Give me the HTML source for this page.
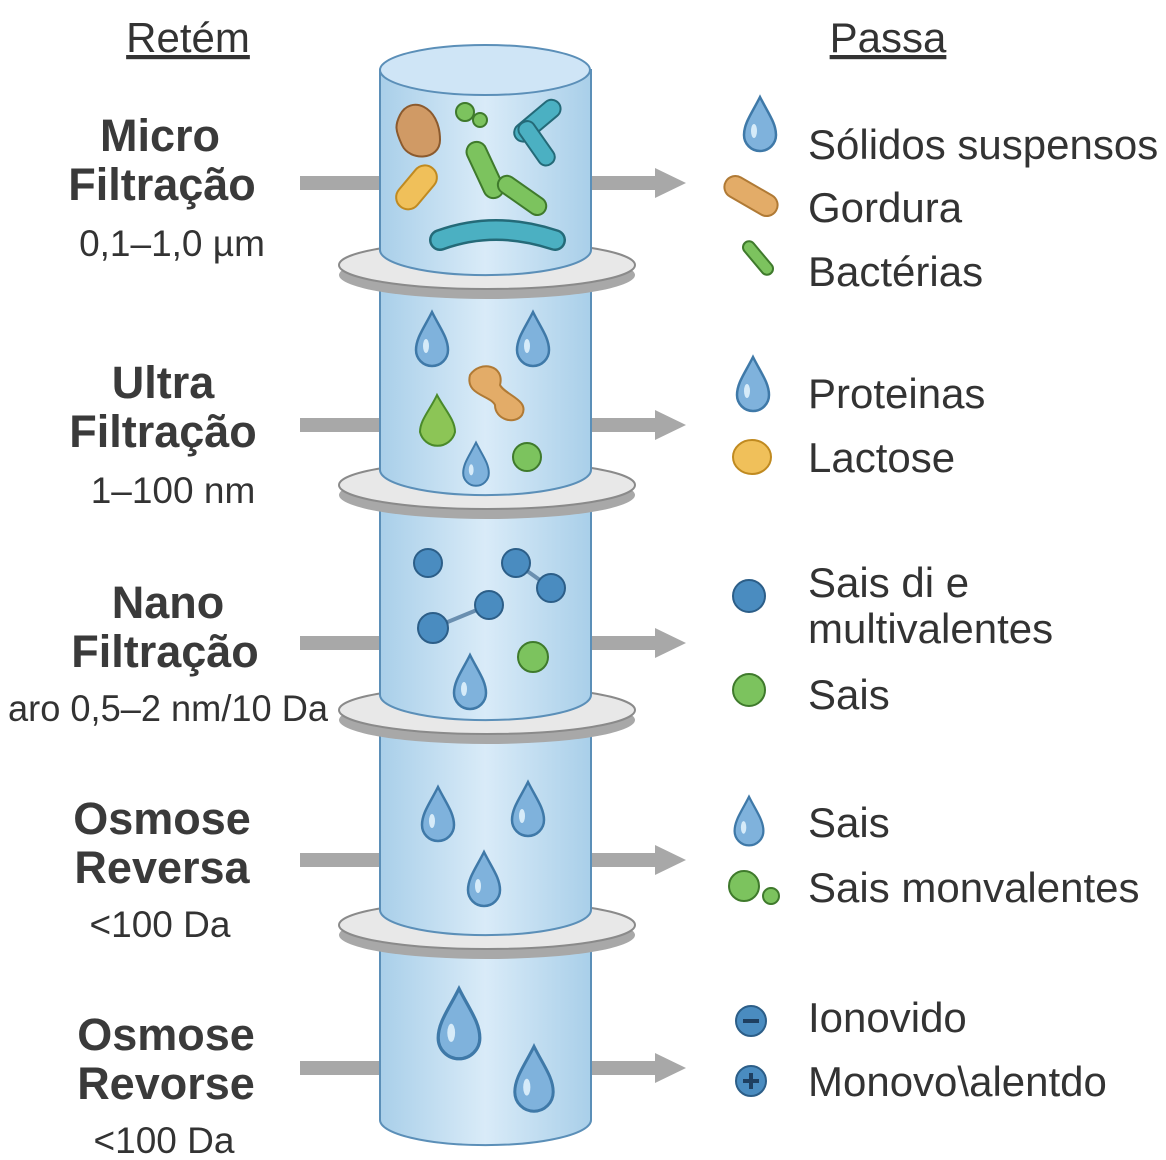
<!DOCTYPE html>
<html><head><meta charset="utf-8"><style>
body{margin:0;background:#fff}
svg{display:block}
text{font-family:"Liberation Sans",sans-serif;fill:#333}
.t{font-weight:bold;font-size:45px;text-anchor:middle;fill:#3a3a3a}
.s{font-size:37px;text-anchor:middle;fill:#333}
.r{font-size:42px}
</style></head><body>
<svg width="1166" height="1160" viewBox="0 0 1166 1160" xmlns="http://www.w3.org/2000/svg">
<defs>
<linearGradient id="cyl" x1="0" x2="1">
<stop offset="0" stop-color="#a9cfe9"/><stop offset="0.5" stop-color="#d9ebf8"/><stop offset="1" stop-color="#a9cfe9"/>
</linearGradient>
<g id="drop"><path d="M0,-28 C8,-12 16,-2 16,10 A16,16 0 0 1 -16,10 C-16,-2 -8,-12 0,-28Z" fill="#7fb2dc" stroke="#3f79a8" stroke-width="2.5"/><ellipse cx="-6" cy="6" rx="3" ry="7" fill="#d6ebf9"/></g>
<g id="disc"><ellipse cx="0" cy="10" rx="148" ry="24" fill="#a8a8a8"/><ellipse cx="0" cy="0" rx="148" ry="24" fill="#e8e8e8" stroke="#8a8a8a" stroke-width="2"/></g>
<g id="arr"><rect x="0" y="-7" width="80" height="14" fill="#a8a8a8"/></g>
<g id="arr2"><rect x="0" y="-7" width="66" height="14" fill="#a8a8a8"/><polygon points="64,-15 95,0 64,15" fill="#a8a8a8"/></g>
</defs>
<rect width="1166" height="1160" fill="#fff"/>
<text x="188" y="52" font-size="42" text-anchor="middle" fill="#333" text-decoration="underline">Retém</text>
<text x="888" y="52" font-size="42" text-anchor="middle" fill="#333" text-decoration="underline">Passa</text>

<g transform="translate(300,183)"><use href="#arr"/></g><g transform="translate(591,183)"><use href="#arr2"/></g>
<g transform="translate(300,425)"><use href="#arr"/></g><g transform="translate(591,425)"><use href="#arr2"/></g>
<g transform="translate(300,643)"><use href="#arr"/></g><g transform="translate(591,643)"><use href="#arr2"/></g>
<g transform="translate(300,860)"><use href="#arr"/></g><g transform="translate(591,860)"><use href="#arr2"/></g>
<g transform="translate(300,1068)"><use href="#arr"/></g><g transform="translate(591,1068)"><use href="#arr2"/></g>

<path d="M380,70 L380,1120 A105,25 0 0 0 591,1120 L591,70 Z" fill="url(#cyl)" stroke="#5b8fb8" stroke-width="2"/>
<ellipse cx="485" cy="70" rx="105" ry="25" fill="#cfe5f6" stroke="#5b8fb8" stroke-width="2"/>
<g transform="translate(487,265)"><use href="#disc"/></g>
<g transform="translate(487,485)"><use href="#disc"/></g>
<g transform="translate(487,710)"><use href="#disc"/></g>
<g transform="translate(487,925)"><use href="#disc"/></g>
<g stroke="#5b8fb8" stroke-width="2">
<path d="M380,230 L380,250 A105,25 0 0 0 591,250 L591,230" fill="url(#cyl)"/>
<path d="M380,450 L380,470 A105,25 0 0 0 591,470 L591,450" fill="url(#cyl)"/>
<path d="M380,675 L380,695 A105,25 0 0 0 591,695 L591,675" fill="url(#cyl)"/>
<path d="M380,890 L380,910 A105,25 0 0 0 591,910 L591,890" fill="url(#cyl)"/>
</g>

<path d="M400,115 C410,95 440,105 440,140 C440,160 410,162 402,145 C395,130 395,125 400,115Z" fill="#d09a65" stroke="#8b5a2e" stroke-width="2"/>
<g fill="#7cc35e" stroke="#3f7a2c" stroke-width="2"><circle cx="465" cy="112" r="9"/><circle cx="480" cy="120" r="7"/></g>
<rect x="403" y="170" width="50" height="24" rx="12" fill="#f0c05a" stroke="#c08a20" stroke-width="2" transform="rotate(-50 428 197)"/>
<rect x="455" y="160" width="60" height="20" rx="10" fill="#7cc35e" stroke="#3f7a2c" stroke-width="2" transform="rotate(65 485 170)"/>
<rect x="495" y="185" width="55" height="18" rx="9" fill="#7cc35e" stroke="#3f7a2c" stroke-width="2" transform="rotate(35 520 194)"/>
<rect x="510" y="112" width="55" height="18" rx="9" fill="#4bb0c2" stroke="#246a78" stroke-width="2" transform="rotate(-40 537 121)"/>
<rect x="512" y="135" width="50" height="17" rx="8" fill="#4bb0c2" stroke="#246a78" stroke-width="2" transform="rotate(55 537 143)"/>
<path d="M440,240 Q495,220 555,240" stroke="#246a78" stroke-width="22" fill="none" stroke-linecap="round"/>
<path d="M440,240 Q495,220 555,240" stroke="#4bb0c2" stroke-width="17" fill="none" stroke-linecap="round"/>

<g transform="translate(432,340)"><use href="#drop"/></g>
<g transform="translate(533,340)"><use href="#drop"/></g>
<g transform="translate(476,465) scale(0.8)"><use href="#drop"/></g>
<path d="M437,395 C445,410 455,420 455,432 A18,18 0 0 1 420,432 C420,420 430,410 437,395Z" fill="#8cc556" stroke="#4a8a2a" stroke-width="2"/>
<path d="M470,375 C480,360 505,365 500,385 C505,395 530,400 522,415 C515,425 495,420 495,405 C490,395 465,395 470,375Z" fill="#e3ac68" stroke="#b07a35" stroke-width="2"/>
<circle cx="527" cy="457" r="14" fill="#7cc35e" stroke="#3f7a2c" stroke-width="2"/>

<g stroke="#6a8fb0" stroke-width="4"><line x1="433" y1="628" x2="489" y2="605"/><line x1="516" y1="563" x2="551" y2="588"/></g>
<g fill="#4a8cc0" stroke="#2c5e88" stroke-width="2">
<circle cx="428" cy="563" r="14"/><circle cx="433" cy="628" r="15"/><circle cx="489" cy="605" r="14"/><circle cx="516" cy="563" r="14"/><circle cx="551" cy="588" r="14"/></g>
<circle cx="533" cy="657" r="15" fill="#7cc35e" stroke="#3f7a2c" stroke-width="2"/>
<g transform="translate(470,683)"><use href="#drop"/></g>

<g transform="translate(438,815)"><use href="#drop"/></g>
<g transform="translate(528,810)"><use href="#drop"/></g>
<g transform="translate(484,880)"><use href="#drop"/></g>
<g transform="translate(459,1025) scale(1.3)"><use href="#drop"/></g>
<g transform="translate(534,1080) scale(1.2)"><use href="#drop"/></g>

<text class="t" x="160" y="151">Micro</text><text class="t" x="162" y="200">Filtração</text><text class="s" x="172" y="256">0,1–1,0 µm</text>
<text class="t" x="163" y="398">Ultra</text><text class="t" x="163" y="447">Filtração</text><text class="s" x="173" y="503">1–100 nm</text>
<text class="t" x="168" y="618">Nano</text><text class="t" x="165" y="667">Filtração</text><text class="s" x="168" y="721" textLength="320" lengthAdjust="spacingAndGlyphs">aro 0,5–2 nm/10 Da</text>
<text class="t" x="162" y="834">Osmose</text><text class="t" x="162" y="883">Reversa</text><text class="s" x="160" y="937">&lt;100 Da</text>
<text class="t" x="166" y="1050">Osmose</text><text class="t" x="166" y="1099">Revorse</text><text class="s" x="164" y="1153">&lt;100 Da</text>

<g transform="translate(760,125)"><use href="#drop"/></g>
<text class="r" x="808" y="159">Sólidos suspensos</text>
<rect x="722" y="185" width="58" height="22" rx="11" fill="#e3ac68" stroke="#b07a35" stroke-width="2" transform="rotate(30 751 196)"/>
<text class="r" x="808" y="222">Gordura</text>
<rect x="738" y="252" width="40" height="12" rx="6" fill="#7cc35e" stroke="#3f7a2c" stroke-width="2" transform="rotate(50 758 258)"/>
<text class="r" x="808" y="286">Bactérias</text>
<g transform="translate(753,385)"><use href="#drop"/></g>
<text class="r" x="808" y="408">Proteinas</text>
<ellipse cx="752" cy="457" rx="19" ry="17" fill="#f0c05a" stroke="#c08a20" stroke-width="2"/>
<text class="r" x="808" y="472">Lactose</text>
<circle cx="749" cy="596" r="16" fill="#4a8cc0" stroke="#2c5e88" stroke-width="2"/>
<text class="r" x="808" y="597">Sais di e</text><text class="r" x="808" y="643">multivalentes</text>
<circle cx="749" cy="690" r="16" fill="#7cc35e" stroke="#3f7a2c" stroke-width="2"/>
<text class="r" x="808" y="709">Sais</text>
<g transform="translate(749,822) scale(0.9)"><use href="#drop"/></g>
<text class="r" x="808" y="837">Sais</text>
<circle cx="744" cy="886" r="15" fill="#7cc35e" stroke="#3f7a2c" stroke-width="2"/><circle cx="771" cy="896" r="8" fill="#7cc35e" stroke="#3f7a2c" stroke-width="2"/>
<text class="r" x="808" y="902">Sais monvalentes</text>
<circle cx="751" cy="1021" r="15" fill="#4a8cc0" stroke="#2c5e88" stroke-width="2"/><rect x="743" y="1019" width="16" height="4" fill="#1e3f60"/>
<text class="r" x="808" y="1032">Ionovido</text>
<circle cx="751" cy="1081" r="15" fill="#4a8cc0" stroke="#2c5e88" stroke-width="2"/><rect x="743" y="1079" width="16" height="4" fill="#1e3f60"/><rect x="749" y="1073" width="4" height="16" fill="#1e3f60"/>
<text class="r" x="808" y="1096">Monovo\alentdo</text>
</svg>
</body></html>
